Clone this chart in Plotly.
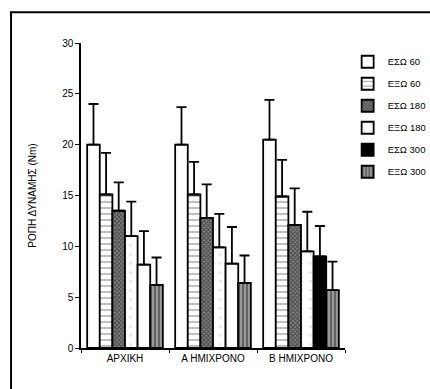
import plotly.graph_objects as go

categories = ["ΑΡΧΙΚΗ", "Α ΗΜΙΧΡΟΝΟ", "Β ΗΜΙΧΡΟΝΟ"]
series_names = ["ΕΣΩ 60", "ΕΞΩ 60", "ΕΣΩ 180", "ΕΞΩ 180", "ΕΣΩ 300", "ΕΞΩ 300"]

esw60 = [20.0, 20.0, 20.5]
exw60 = [15.1, 15.1, 14.9]
esw180 = [13.5, 12.8, 12.1]
exw180 = [11.0, 9.9, 9.5]
esw300 = [8.2, 8.3, 9.0]
exw300 = [6.2, 6.4, 5.7]

# upper end of the error bars
esw60_err = [24.0, 23.7, 24.4]
exw60_err = [19.2, 18.3, 18.5]
esw180_err = [16.3, 16.1, 15.7]
exw180_err = [14.4, 13.2, 13.4]
esw300_err = [11.5, 11.9, 12.0]
exw300_err = [8.9, 9.1, 8.5]

values = [esw60, exw60, esw180, exw180, esw300, exw300]
errs = [esw60_err, exw60_err, esw180_err, exw180_err, esw300_err, exw300_err]

styles = [
    dict(color="white", pattern=dict(shape="")),
    dict(color="white", pattern=dict(shape="-", fgcolor="#555", bgcolor="white", size=6, solidity=0.25)),
    dict(color="#666", pattern=dict(shape="x", fgcolor="#111", bgcolor="#888", size=3, solidity=0.6)),
    dict(color="white", pattern=dict(shape=".", fgcolor="#ccc", bgcolor="white", size=9, solidity=0.08)),
    dict(color=["white", "white", "black"], pattern=dict(shape="")),
    dict(color="#777", pattern=dict(shape="|", fgcolor="#111", bgcolor="#999", size=4, solidity=0.4)),
]

fig = go.Figure()
for i, (name, v, e, st) in enumerate(zip(series_names, values, errs, styles)):
    plus = [round(a - b, 3) for a, b in zip(e, v)]
    fig.add_trace(go.Bar(
        x=categories, y=v, name=name,
        offsetgroup=str(i), legendgroup=str(i), legendrank=i + 1,
        showlegend=(i != 4),
        marker=dict(color=st["color"], pattern=st["pattern"],
                    line=dict(color="black", width=1.8)),
        error_y=dict(type="data", symmetric=False, array=plus,
                     arrayminus=[0] * len(v), color="black",
                     thickness=1.8, width=5),
    ))

# legend entry for ΕΣΩ 300 (black marker)
fig.add_trace(go.Bar(
    x=[None], y=[None], name=series_names[4], offsetgroup="4",
    legendgroup="4", legendrank=5,
    marker=dict(color="black", line=dict(color="black", width=1.8)),
))

fig.add_shape(type="rect", xref="paper", yref="paper",
              x0=-0.265, x1=1.4, y0=-0.16, y1=1.101,
              line=dict(color="black", width=2), fillcolor="rgba(0,0,0,0)",
              layer="below")

fig.update_layout(
    width=430, height=389,
    margin=dict(l=81, r=85, t=43, b=41, autoexpand=False),
    paper_bgcolor="white", plot_bgcolor="white",
    font=dict(family="Liberation Sans, Arial", size=10, color="black"),
    barmode="group", bargap=0.14, bargroupgap=0,
    showlegend=True,
    legend=dict(x=1.01, xanchor="left", y=0.986, yanchor="top",
                font=dict(size=9.5), tracegroupgap=3,
                bgcolor="rgba(0,0,0,0)"),
    xaxis=dict(showline=True, linecolor="black", linewidth=1.5,
               ticks="outside", tickson="boundaries", ticklen=3,
               tickcolor="black", showgrid=False),
    yaxis=dict(range=[0, 30], dtick=5, showline=True, linecolor="black",
               linewidth=1.5, ticks="outside", ticklen=4, tickcolor="black",
               showgrid=False, zeroline=False,
               title=dict(text="ΡΟΠΗ ΔΥΝΑΜΗΣ (Nm)", standoff=24,
                          font=dict(size=10))),
)

fig.write_html("out.html")
